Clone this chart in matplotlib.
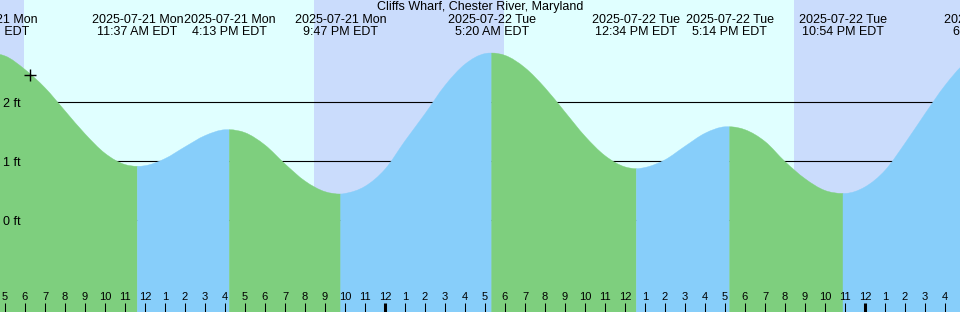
import numpy as np
import pandas as pd
import matplotlib
matplotlib.use('Agg')
import matplotlib.pyplot as plt
import matplotlib.dates as mdates
import matplotlib.transforms as mtransforms
from matplotlib.path import Path
from matplotlib.patches import PathPatch

plt.rcParams['font.family'] = ['Liberation Sans', 'DejaVu Sans']

title = 'Cliffs Wharf, Chester River, Maryland'

# high / low tide events (local time, EDT) and heights in ft
event_when = ['2025-07-21 04:20', '2025-07-21 11:37', '2025-07-21 16:13',
              '2025-07-21 21:47', '2025-07-22 05:20', '2025-07-22 12:34',
              '2025-07-22 17:14', '2025-07-22 22:54', '2025-07-23 06:16']
event_ft = [2.82, 0.91, 1.53, 0.44, 2.83, 0.87, 1.58, 0.45, 2.85]

# hourly water level, starting 2025-07-21 05:00
curve_start = '2025-07-21 05:00'
curve_ft = [2.78, 2.55, 2.24, 1.85, 1.46, 1.13, 0.94, 0.92, 1.04, 1.24,
            1.43, 1.53, 1.48, 1.27, 0.95, 0.66, 0.48, 0.45, 0.57, 0.86,
            1.34, 1.80, 2.28, 2.64, 2.82, 2.79, 2.58, 2.24, 1.83, 1.42,
            1.09, 0.90, 0.89, 1.02, 1.25, 1.47, 1.58, 1.53, 1.33, 0.99,
            0.70, 0.50, 0.45, 0.56, 0.84, 1.30, 1.80, 2.28, 2.66, 2.84]

sunrise = ['2025-07-21 05:57', '2025-07-22 05:57']
sunset = ['2025-07-21 20:28', '2025-07-22 20:27']

now_when = '2025-07-21 06:15'
now_ft = 2.45

level_ft = [0, 1, 2]
view = ('2025-07-21 04:45', '2025-07-23 04:45')

night_col = '#cadcfc'
day_col = '#e0ffff'
fall_col = '#7ecf7e'
rise_col = '#87cefa'

def num(s):
    return mdates.date2num(pd.Timestamp(s).to_pydatetime())

ev_t = pd.to_datetime(event_when)
ev_x = np.array([num(t) for t in ev_t])
ev_h = np.array(event_ft)
hours = pd.date_range(curve_start, periods=len(curve_ft), freq='h')
hr_x = np.array([num(t) for t in hours])

x = np.concatenate([hr_x, ev_x])
h = np.concatenate([np.array(curve_ft), ev_h])
is_ev = np.concatenate([np.zeros(len(hr_x), bool), np.ones(len(ev_x), bool)])
order = np.argsort(x)
x, h, is_ev = x[order], h[order], is_ev[order]

# slopes for a smooth (cubic) outline, flat at highs and lows
slope = np.gradient(h, x)
slope[is_ev] = 0.0

ylo, yhi = -92 / 59, 220 / 59

fig = plt.figure(figsize=(9.6, 3.12), dpi=100)
ax = fig.add_axes([0, 0, 1, 1])
ax.set_facecolor(night_col)
for a, b in zip(sunrise, sunset):
    ax.axvspan(num(a), num(b), color=day_col, lw=0, zorder=0)

for v in level_ft:
    ax.axhline(v, color='black', lw=0.8, zorder=1)

# falling tide green, rising tide blue
for i in range(len(ev_x) - 1):
    m = (x >= ev_x[i]) & (x <= ev_x[i + 1])
    xs, hs, ss = x[m], h[m], slope[m]
    col = fall_col if ev_h[i] > ev_h[i + 1] else rise_col
    verts = [(xs[0], ylo), (xs[0], hs[0])]
    codes = [Path.MOVETO, Path.LINETO]
    for j in range(len(xs) - 1):
        dx = xs[j + 1] - xs[j]
        verts += [(xs[j] + dx / 3, hs[j] + ss[j] * dx / 3),
                  (xs[j + 1] - dx / 3, hs[j + 1] - ss[j + 1] * dx / 3),
                  (xs[j + 1], hs[j + 1])]
        codes += [Path.CURVE4] * 3
    verts += [(xs[-1], ylo), (xs[0], ylo)]
    codes += [Path.LINETO, Path.CLOSEPOLY]
    ax.add_patch(PathPatch(Path(verts, codes), facecolor=col,
                           edgecolor=col, lw=0.3, zorder=2))

ax.plot(num(now_when), now_ft, marker='+', color='black', ms=9, mew=1, zorder=3)

# labels for levels
trans_y = mtransforms.blended_transform_factory(ax.transAxes, ax.transData)
for v in level_ft:
    ax.text(3 / 960, v - 2 / 59, f'{v} ft', transform=trans_y, fontsize=9,
            ha='left', va='center', zorder=4)

# labels for tide events
trans_x = mtransforms.blended_transform_factory(ax.transData, ax.transAxes)
for t, xx in zip(ev_t, ev_x):
    line1 = t.strftime('%Y-%m-%d %a')
    line2 = t.strftime('%I:%M %p').lstrip('0') + ' EDT'
    ax.text(xx, 1 - 20 / 312, line1, transform=trans_x, fontsize=9,
            ha='center', va='center', zorder=4)
    ax.text(xx, 1 - 32 / 312, line2, transform=trans_x, fontsize=9,
            ha='center', va='center', zorder=4)

ax.text(0.5, 1 - 7 / 312, title, transform=ax.transAxes, fontsize=9,
        ha='center', va='center', zorder=4)

# hour ticks, thick at midnight
tick_t = pd.date_range('2025-07-21 05:00', '2025-07-23 04:00', freq='h')
ax.set_xticks([num(t) for t in tick_t])
ax.set_xticklabels([str(t.hour % 12 or 12) for t in tick_t])
ax.tick_params(axis='x', direction='in', length=6.5, width=0.75, pad=-14.5,
               labelsize=8, colors='black')
for tk, t in zip(ax.xaxis.get_major_ticks(), tick_t):
    if t.hour == 0:
        tk.tick1line.set_markeredgewidth(2.2)
ax.set_axisbelow(False)
ax.set_yticks([])
for s in ax.spines.values():
    s.set_visible(False)

ax.set_xlim(num(view[0]), num(view[1]))
ax.set_ylim(ylo, yhi)

plt.savefig('out.png', dpi=100)
